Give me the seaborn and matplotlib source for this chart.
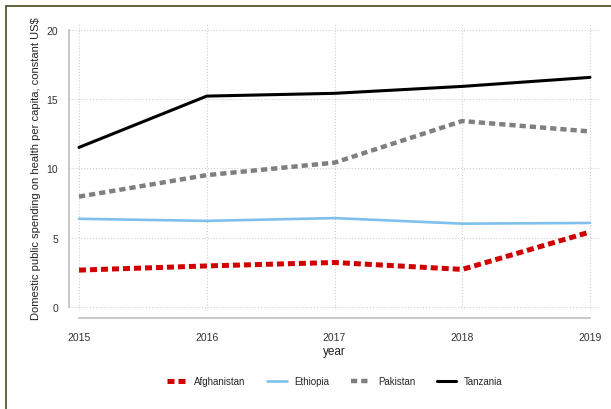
import pandas as pd
import matplotlib
matplotlib.use("Agg")
import matplotlib.pyplot as plt
import seaborn as sns
from matplotlib.patches import Rectangle

years = [2015, 2016, 2017, 2018, 2019]
afghanistan = [2.65, 2.95, 3.2, 2.7, 5.4]
ethiopia = [6.35, 6.2, 6.4, 6.0, 6.05]
pakistan = [7.95, 9.5, 10.4, 13.4, 12.65]
tanzania = [11.5, 15.2, 15.4, 15.9, 16.55]
countries = ["Afghanistan", "Ethiopia", "Pakistan", "Tanzania"]
y_ticks = [0, 5, 10, 15, 20]

df = pd.DataFrame({
    "year": years * 4,
    "value": afghanistan + ethiopia + pakistan + tanzania,
    "country": [c for c in countries for _ in years],
})

sns.set_style("white")
plt.rcParams["font.family"] = ["Liberation Sans", "DejaVu Sans"]

styles = {
    "Afghanistan": dict(color="#d10000", lw=3.6, ls=(0, (1.4, 0.8))),
    "Ethiopia": dict(color="#7fc0ec", lw=1.9, ls="-"),
    "Pakistan": dict(color="#7f7f7f", lw=3.2, ls=(0, (1.4, 0.9))),
    "Tanzania": dict(color="black", lw=2.2, ls="-"),
}

fig = plt.figure(figsize=(6.11, 4.10), dpi=100)
ax = fig.add_axes([69 / 611, 1 - 312 / 410, 531 / 611, 287 / 410])

handles = []
for c in countries:
    st = styles[c]
    sns.lineplot(data=df[df["country"] == c], x="year", y="value", ax=ax,
                 color=st["color"], linewidth=st["lw"], linestyle=st["ls"],
                 label=c, legend=False)
    handles.append(ax.lines[-1])

# 2015 sits ~10px right of the y axis line, 2019 at ~590px
ax.set_xlim(2015 - 10 / 127.75, 2019 + 10 / 127.75)
ax.set_ylim(-0.3, 20.4)
ax.set_xticks(years)
ax.set_yticks(y_ticks)
ax.grid(True, color="#cfcfcf", linestyle=":", linewidth=0.8)

for s in ["top", "right"]:
    ax.spines[s].set_visible(False)
ax.spines["bottom"].set_position(("outward", 5))
ax.spines["left"].set_bounds(0, 20)
ax.spines["bottom"].set_bounds(2015, 2019)
for s in ["left", "bottom"]:
    ax.spines[s].set_color("#bdbdbd")
    ax.spines[s].set_linewidth(1.2)

ax.tick_params(axis="both", colors="#bdbdbd", length=6, width=1.0,
               labelsize=7.5, labelcolor="#333333")
ax.tick_params(axis="y", pad=2)
ax.tick_params(axis="x", pad=4)
ax.set_xlabel("year", fontsize=8.5, color="#222222", labelpad=2)
ax.set_ylabel("Domestic public spending on health per capita, constant US$",
              fontsize=8, color="#222222", labelpad=3.5)

fig.legend(handles=handles, labels=countries, loc="center",
           bbox_to_anchor=(0.548, 1 - 382 / 410), ncol=4, frameon=False,
           fontsize=7, handlelength=2.0, handletextpad=0.8, columnspacing=2.2)

fig.add_artist(Rectangle((6 / 611, -0.1), 1.2, 1.1 - 7 / 410,
                         transform=fig.transFigure, fill=False,
                         edgecolor="#4a4a1a", linewidth=1.2))

fig.savefig("out.png", dpi=100)
